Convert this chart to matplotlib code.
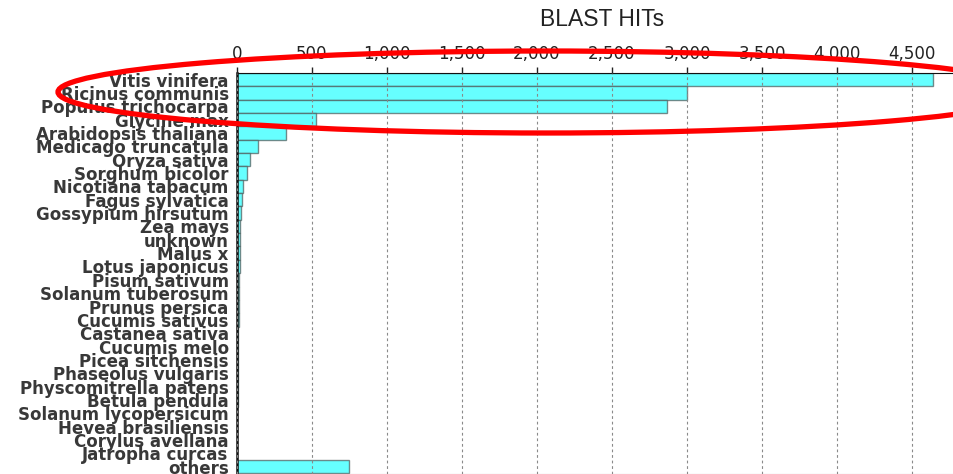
import matplotlib
matplotlib.use('Agg')
import matplotlib.pyplot as plt
from matplotlib.patches import Ellipse

species = ['Vitis vinifera', 'Ricinus communis', 'Populus trichocarpa', 'Glycine max',
           'Arabidopsis thaliana', 'Medicago truncatula', 'Oryza sativa', 'Sorghum bicolor',
           'Nicotiana tabacum', 'Fagus sylvatica', 'Gossypium hirsutum', 'Zea mays',
           'unknown', 'Malus x', 'Lotus japonicus', 'Pisum sativum', 'Solanum tuberosum',
           'Prunus persica', 'Cucumis sativus', 'Castanea sativa', 'Cucumis melo',
           'Picea sitchensis', 'Phaseolus vulgaris', 'Physcomitrella patens',
           'Betula pendula', 'Solanum lycopersicum', 'Hevea brasiliensis',
           'Corylus avellana', 'Jatropha curcas', 'others']
hits = [4640, 3000, 2870, 525, 330, 143, 90, 68, 37, 35, 24, 22,
        22, 21, 20, 15, 13, 12, 11, 10, 10, 9, 9, 8,
        8, 3, 3, 2, 2, 750]
xticks = [0, 500, 1000, 1500, 2000, 2500, 3000, 3500, 4000, 4500]

W, H = 954, 474
fig = plt.figure(figsize=(W / 100, H / 100), dpi=100)
ax = fig.add_axes([237 / W, 0, 1 - 237 / W, 1 - 73 / H])

ypos = list(range(len(species)))
ax.barh(ypos, hits, height=1.0, color='#66ffff',
        edgecolor=(0.3, 0.35, 0.35, 0.7), linewidth=1.0, zorder=1)
ax.set_ylim(len(species) - 0.5 + 0.05, -0.5)
ax.set_xlim(0, 4780)

ax.xaxis.tick_top()
ax.set_xticks(xticks)
ax.set_xticklabels([f'{v:,}' for v in xticks], fontsize=12, color='#222222')
ax.tick_params(axis='x', length=4, width=1, pad=3, color='#222222')
ax.set_yticks(ypos)
ax.set_yticklabels(species, fontsize=12, fontweight='bold', color='#383838')
ax.tick_params(axis='y', length=0, pad=6)
for t in ax.get_yticklabels():
    t.set_verticalalignment('center_baseline')

ax.grid(axis='x', linestyle=(0, (2.5, 2.5)), color='#8a8a8a', linewidth=0.8, zorder=2)
ax.set_axisbelow(False)

ax.spines['right'].set_visible(False)
ax.spines['top'].set_color('#111111')
ax.spines['left'].set_color('#111111')
ax.spines['left'].set_linewidth(1.8)
ax.spines['bottom'].set_color('#aaaaaa')

fig.text(602 / W, 1 - 19 / H, 'BLAST HITs', family='Liberation Sans', fontsize=16.5,
         color='#222222', ha='center', va='center')

# red highlight ring around the top hits
ring = Ellipse((546 / W, 1 - 92 / H), 2 * 488 / W, 2 * 41 / H,
               transform=fig.transFigure, fill=False, edgecolor='#ff0000',
               linewidth=3.8, zorder=10, clip_on=False)
fig.patches.append(ring)

fig.savefig('out.png', dpi=100)
